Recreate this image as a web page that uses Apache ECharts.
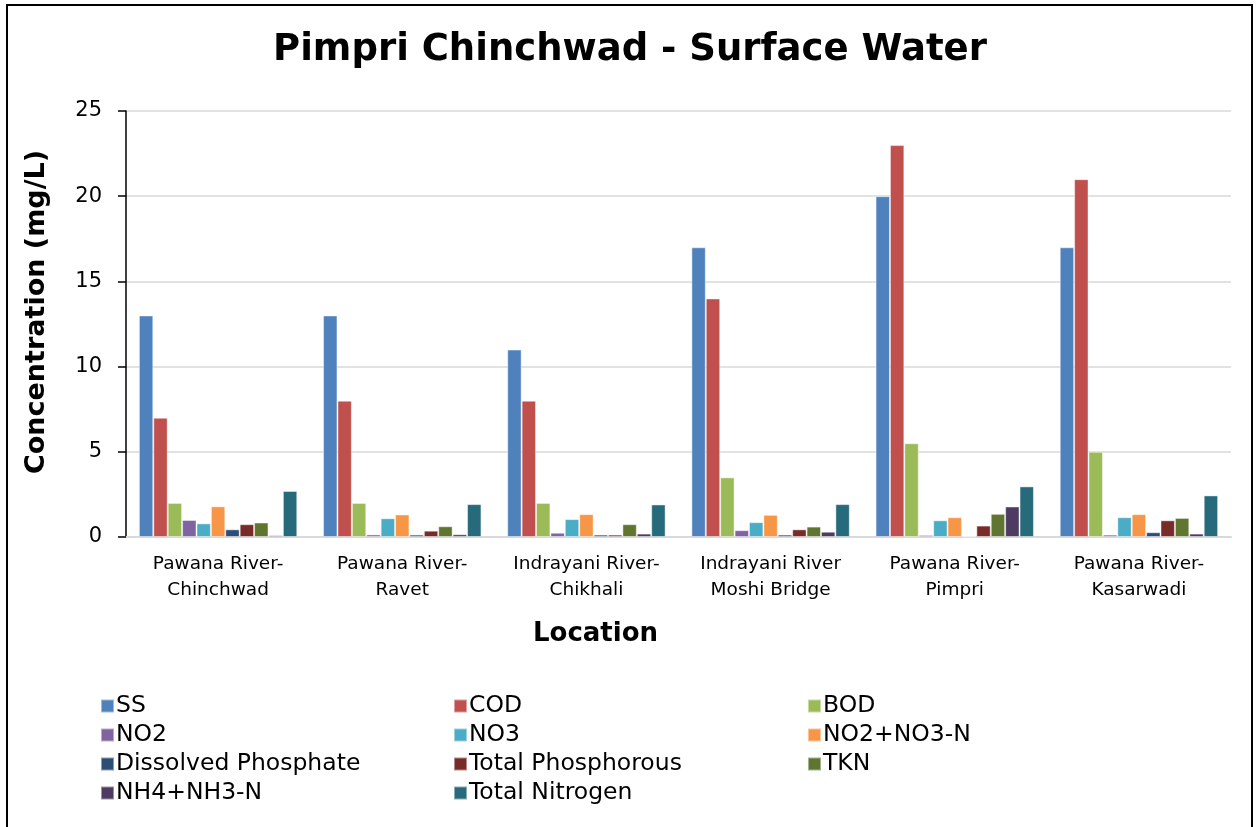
<!DOCTYPE html>
<html>
<head>
<meta charset="utf-8">
<title>Pimpri Chinchwad - Surface Water</title>
<script src="https://cdn.jsdelivr.net/npm/echarts@6/dist/echarts.min.js"></script>
<style>
    html, body { margin: 0; padding: 0; background: #fff; }
    #chart { width: 1260px; height: 827px; }
</style>
</head>
<body>
<div id="chart"></div>
<script>
    // locations (x axis)
    const locations = [
        'Pawana River-\nChinchwad',
        'Pawana River-\nRavet',
        'Indrayani River-\nChikhali',
        'Indrayani River\nMoshi Bridge',
        'Pawana River-\nPimpri',
        'Pawana River-\nKasarwadi'
    ];
    const yTicks = [0, 5, 10, 15, 20, 25];

    // concentrations, mg/L
    const ss = [13, 13, 11, 17, 20, 17];
    const cod = [7, 8, 8, 14, 23, 21];
    const bod = [2, 2, 2, 3.5, 5.5, 5];
    const no2 = [1.0, 0.15, 0.25, 0.4, 0.12, 0.14];
    const no3 = [0.8, 1.1, 1.05, 0.87, 0.98, 1.16];
    const no2no3 = [1.8, 1.32, 1.34, 1.3, 1.16, 1.34];
    const dissolvedP = [0.45, 0.14, 0.14, 0.14, 0.04, 0.28];
    const totalP = [0.75, 0.37, 0.14, 0.45, 0.67, 0.98];
    const tkn = [0.85, 0.63, 0.75, 0.61, 1.36, 1.12];
    const nh4 = [0.1, 0.16, 0.2, 0.31, 1.79, 0.2];
    const totalN = [2.7, 1.93, 1.91, 1.93, 2.97, 2.44];

    const seriesNames = ['SS', 'COD', 'BOD', 'NO2', 'NO3', 'NO2+NO3-N',
        'Dissolved Phosphate', 'Total Phosphorous', 'TKN', 'NH4+NH3-N', 'Total Nitrogen'];
    const seriesData = [ss, cod, bod, no2, no3, no2no3, dissolvedP, totalP, tkn, nh4, totalN];
    const colors = ['#4F81BD', '#C0504D', '#9BBB59', '#8064A2', '#4BACC6', '#F79646',
        '#2C4D75', '#772C2A', '#5F7530', '#4D3B62', '#276A7C'];

    const font = 'DejaVu Sans, Verdana, sans-serif';

    // legend is laid out in 3 columns, 4 rows
    function legendCol (idx, left) {
        return {
            orient: 'vertical',
            left: left,
            top: 689,
            height: 134,
            itemWidth: 13,
            itemHeight: 13,
            itemGap: 5,
            icon: 'rect',
            textStyle: { fontFamily: font, fontSize: 23.5, lineHeight: 24, color: '#000', padding: [0, 0, 0, -3] },
            data: idx.map(i => seriesNames[i])
        };
    }

    const chart = echarts.init(document.getElementById('chart'));
    chart.setOption({
        color: colors,
        animation: false,
        title: {
            text: 'Pimpri Chinchwad - Surface Water',
            left: 'center',
            top: 27,
            textStyle: { fontFamily: font, fontSize: 37, fontWeight: 'bold', color: '#000' }
        },
        legend: [
            legendCol([0, 3, 6, 9], 95),
            legendCol([1, 4, 7, 10], 448),
            legendCol([2, 5, 8], 802)
        ],
        grid: { left: 126, right: 29, top: 111, bottom: 290 },
        xAxis: {
            type: 'category',
            data: locations,
            name: 'Location',
            nameLocation: 'middle',
            nameGap: 84,
            // name sits left of the plot centre in the original
            nameTextStyle: { fontFamily: font, fontSize: 26, fontWeight: 'bold', color: '#000', padding: [0, 166, 0, 0] },
            axisLine: { lineStyle: { color: '#D9D9D9', width: 2 } },
            axisTick: { show: false },
            axisLabel: { interval: 0, fontFamily: font, fontSize: 18.5, color: '#000', lineHeight: 26, margin: 14 }
        },
        yAxis: {
            type: 'value',
            min: yTicks[0],
            max: yTicks[yTicks.length - 1],
            interval: 5,
            name: 'Concentration (mg/L)',
            nameLocation: 'middle',
            nameGap: 76,
            nameTextStyle: { fontFamily: font, fontSize: 27, fontWeight: 'bold', color: '#000', padding: [0, 0, 0, 24] },
            axisLine: { show: true, lineStyle: { color: '#000', width: 1.5 } },
            axisTick: { show: true, length: 8, lineStyle: { color: '#000', width: 1.5 } },
            axisLabel: { fontFamily: font, fontSize: 21, color: '#000', margin: 24 },
            splitLine: { lineStyle: { color: '#D9D9D9', width: 1.5 } }
        },
        series: seriesNames.map((name, i) => ({
            name: name,
            type: 'bar',
            data: seriesData[i],
            barGap: '0%',
            barCategoryGap: '14%',
            itemStyle: { borderColor: 'rgba(255,255,255,0.45)', borderWidth: 1 }
        })),
        graphic: [{
            type: 'rect',
            shape: { x: 7, y: 5, width: 1245, height: 860 },
            style: { fill: 'none', stroke: '#000', lineWidth: 2 },
            silent: true
        }]
    });
</script>
</body>
</html>
